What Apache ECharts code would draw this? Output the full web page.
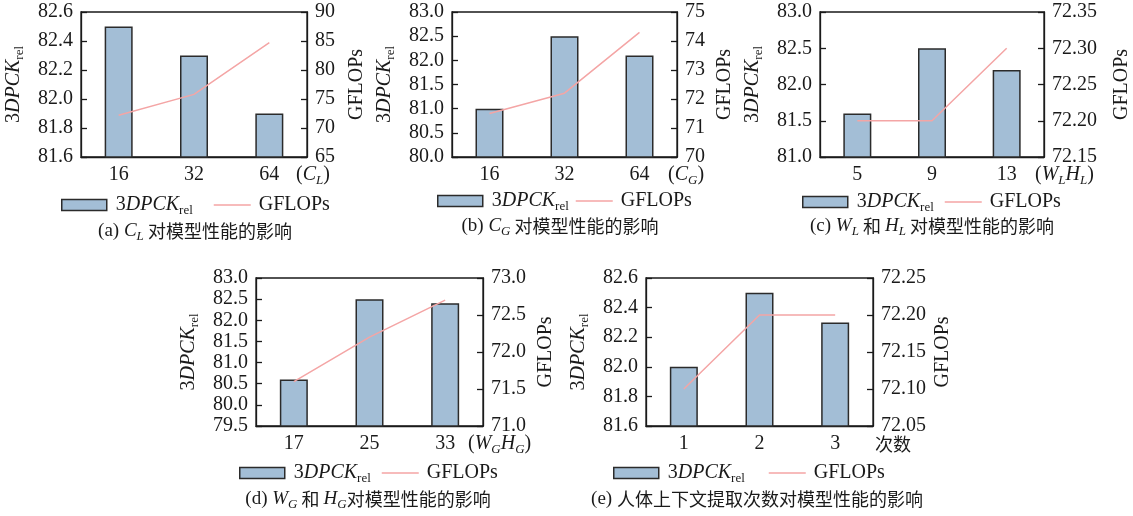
<!DOCTYPE html>
<html><head><meta charset="utf-8">
<script src="https://cdn.jsdelivr.net/npm/echarts@6/dist/echarts.min.js"></script>
<style>html,body{margin:0;padding:0;background:#fff}#c{width:1133px;height:516px}</style>
</head><body><div id="c"></div>
<script>
// ---- data ----
const catA = ['16', '32', '64'];
const pckA = [82.5, 82.3, 81.9];
const flA = [72.2, 75.8, 84.7];

const catB = ['16', '32', '64'];
const pckB = [81.0, 82.5, 82.1];
const flB = [71.5, 72.2, 74.3];

const catC = ['5', '9', '13'];
const pckC = [81.6, 82.5, 82.2];
const flC = [72.20, 72.20, 72.30];

const catD = ['17', '25', '33'];
const pckD = [80.6, 82.5, 82.4];
const flD = [71.6, 72.2, 72.7];

const catE = ['1', '2', '3'];
const pckE = [82.0, 82.5, 82.3];
const flE = [72.10, 72.20, 72.20];

// axis ranges [min, max, interval, decimals]
const leftA = [81.6, 82.6, 0.2, 1], rightA = [65, 90, 5, 0];
const leftB = [80.0, 83.0, 0.5, 1], rightB = [70, 75, 1, 0];
const leftC = [81.0, 83.0, 0.5, 1], rightC = [72.15, 72.35, 0.05, 2];
const leftD = [79.5, 83.0, 0.5, 1], rightD = [71.0, 73.0, 0.5, 1];
const leftE = [81.6, 82.6, 0.2, 1], rightE = [72.05, 72.25, 0.05, 2];

const xNames = ['{p|(}{i|C}{s|L}{p|)}', '{p|(}{i|C}{s|G}{p|)}', '{p|(}{i|W}{s|L}{i|H}{s|L}{p|)}', '{p|(}{i|W}{s|G}{i|H}{s|G}{p|)}', '{c|次数}'];
const captions = [
  '{p|(a) }{i|C}{s|L}{c| 对模型性能的影响}',
  '{p|(b) }{i|C}{s|G}{c| 对模型性能的影响}',
  '{p|(c) }{i|W}{s|L}{c| 和 }{i|H}{s|L}{c| 对模型性能的影响}',
  '{p|(d) }{i|W}{s|G}{c| 和 }{i|H}{s|G}{c|对模型性能的影响}',
  '{p|(e) }{c|人体上下文提取次数对模型性能的影响}'
];
const pckName = '{n|3}{i|DPCK}{s|rel}';

// ---- layout ----
const SERIF = '"Liberation Serif", "Times New Roman", serif';
const CJK = '"Noto Sans CJK SC", sans-serif';
const FS = 20;
const TXT = '#1a1a1a';
const rich = {
  n: {fontFamily: SERIF, fontSize: FS, lineHeight: 24, color: TXT, fontWeight: 'normal'},
  p: {fontFamily: SERIF, fontSize: FS, lineHeight: 24, color: TXT, fontWeight: 'normal'},
  i: {fontFamily: SERIF, fontSize: FS, fontStyle: 'italic', lineHeight: 24, color: TXT, fontWeight: 'normal'},
  s: {fontFamily: SERIF, fontSize: 13, lineHeight: 13, verticalAlign: 'bottom', color: TXT, fontWeight: 'normal'},
  c: {fontFamily: CJK, fontSize: 18, lineHeight: 24, color: TXT, fontWeight: 'normal'}
};
const richSubItalic = Object.assign({}, rich, {s: Object.assign({}, rich.s, {fontStyle: 'italic'})});
const richCap = Object.assign({}, richSubItalic, {p: Object.assign({}, rich.p, {fontSize: 19}), i: Object.assign({}, rich.i, {fontSize: 19})});

const panels = [
  {cat: catA, pck: pckA, fl: flA, L: leftA, R: rightA, g: {left: 81, top: 12, width: 226, height: 145}, xGap: -11, yGap: 55, rGap: 38,
   leg1: [61, 195], leg2: [213, 195], cap: [195, 219]},
  {cat: catB, pck: pckB, fl: flB, L: leftB, R: rightB, g: {left: 452, top: 12, width: 225, height: 145}, xGap: -9, yGap: 55, rGap: 36,
   leg1: [437, 191], leg2: [575, 191], cap: [560, 214]},
  {cat: catC, pck: pckC, fl: flC, L: leftC, R: rightC, g: {left: 820, top: 12, width: 227, height: 145}, xGap: -9, yGap: 55, rGap: 66,
   leg1: [802, 192], leg2: [944, 192], cap: [932, 214]},
  {cat: catD, pck: pckD, fl: flD, L: leftD, R: rightD, g: {left: 256, top: 278, width: 227, height: 148}, xGap: -15, yGap: 55, rGap: 51,
   leg1: [239, 463], leg2: [381, 463], cap: [368, 487]},
  {cat: catE, pck: pckE, fl: flE, L: leftE, R: rightE, g: {left: 646, top: 278, width: 227, height: 148}, xGap: 2, yGap: 55, rGap: 58,
   leg1: [613, 463], leg2: [768, 463], cap: [757, 487]}
];

const BAR = '#a3bed6', EDGE = '#2b2b2b', LINE = '#f4a5a5', AX = '#1a1a1a';
const option = {backgroundColor: '#fff', animation: false, grid: [], xAxis: [], yAxis: [], series: [], legend: [], title: []};

panels.forEach((p, k) => {
  option.grid.push(Object.assign({show: true, borderColor: AX, borderWidth: 1.3, backgroundColor: 'transparent'}, p.g));
  option.xAxis.push({
    type: 'category', gridIndex: k, data: p.cat,
    axisLine: {lineStyle: {color: AX, width: 1.3}}, axisTick: {show: false},
    axisLabel: {fontFamily: SERIF, fontSize: FS, color: AX, margin: 8},
    name: xNames[k], nameLocation: 'end', nameGap: p.xGap, nameMoveOverlap: false,
    nameTextStyle: {verticalAlign: 'top', padding: [6, 0, 0, 0], rich: richSubItalic}
  });
  const yA = (r, pos, name, gap, rr) => ({
    type: 'value', gridIndex: k, position: pos, min: r[0], max: r[1], interval: r[2],
    axisLine: {show: true, lineStyle: {color: AX, width: 1.3}},
    axisTick: {show: true, inside: true, length: 6, lineStyle: {color: AX, width: 1.3}},
    splitLine: {show: false},
    axisLabel: {fontFamily: SERIF, fontSize: FS, color: AX, margin: 8, formatter: v => Number(v).toFixed(r[3])},
    name: name, nameLocation: 'middle', nameRotate: 90, nameGap: gap, nameMoveOverlap: false,
    nameTextStyle: {rich: rr}
  });
  option.yAxis.push(yA(p.L, 'left', pckName, p.yGap, rich));
  option.yAxis.push(yA(p.R, 'right', '{p|GFLOPs}', p.rGap, rich));
  option.series.push({
    name: '3DPCK', type: 'bar', xAxisIndex: k, yAxisIndex: 2 * k, data: p.pck, barWidth: 28,
    itemStyle: {color: BAR, borderColor: EDGE, borderWidth: 1.5}
  });
  option.series.push({
    name: 'GFLOPs', type: 'line', xAxisIndex: k, yAxisIndex: 2 * k + 1, data: p.fl,
    symbol: 'none', showSymbol: false, lineStyle: {color: LINE, width: 1.5}, itemStyle: {color: LINE}
  });
  option.legend.push({
    data: [{name: '3DPCK', icon: 'rect'}], left: p.leg1[0], top: p.leg1[1], padding: 0,
    itemWidth: 45, itemHeight: 11, selectedMode: false,
    itemStyle: {borderColor: EDGE, borderWidth: 1.5},
    formatter: () => pckName, textStyle: {padding: [0, 0, 0, 4], rich: rich}
  });
  option.legend.push({
    data: ['GFLOPs'], left: p.leg2[0], top: p.leg2[1], padding: 0,
    itemWidth: 37, itemHeight: 12, selectedMode: false,
    itemStyle: {opacity: 0, borderWidth: 0},
    lineStyle: {color: LINE, width: 1.5, opacity: 1},
    formatter: () => '{p|GFLOPs}', textStyle: {padding: [0, 0, 0, 3], rich: rich}
  });
  option.title.push({
    text: captions[k], left: p.cap[0], top: p.cap[1], textAlign: 'center', padding: 0,
    textStyle: {rich: richCap, fontSize: 18, fontWeight: 'normal'}
  });
});

const chart = echarts.init(document.getElementById('c'), null, {renderer: 'canvas'});
chart.setOption(option);
</script>
</body></html>
